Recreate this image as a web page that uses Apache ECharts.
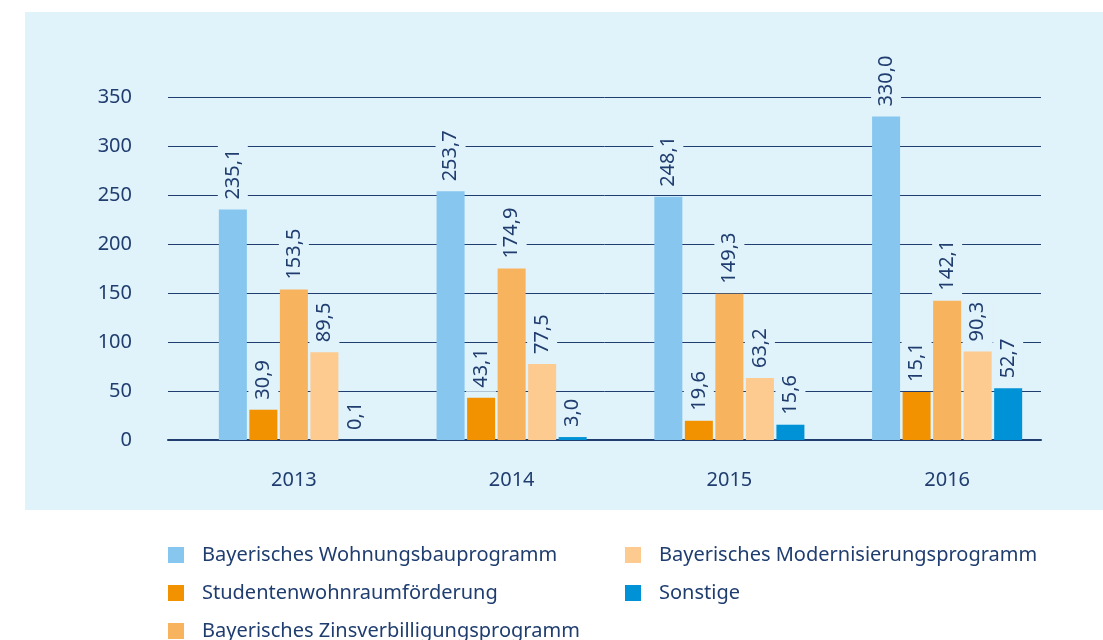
<!DOCTYPE html>
<html>
<head>
    <meta charset="utf-8">
    <script src="https://cdn.jsdelivr.net/npm/echarts@6/dist/echarts.min.js"></script>
</head>
<body style="margin:0;background:#fff">
    <div id="main" style="width:1103px;height:640px;"></div>
    <script type="text/javascript">
        var years = ['2013', '2014', '2015', '2016'];
        var yTicks = [0, 50, 100, 150, 200, 250, 300, 350];

        var wohnungsbau = [235.1, 253.7, 248.1, 330.0];
        var studenten = [30.9, 43.1, 19.6, 15.1];
        // in der Vorlage ist der 2016er Balken deutlich höher als sein Wert 15,1
        var studentenBalken = [30.9, 43.1, 19.6, 49.0];
        var zinsverbilligung = [153.5, 174.9, 149.3, 142.1];
        var modernisierung = [89.5, 77.5, 63.2, 90.3];
        var sonstige = [0.1, 3.0, 15.6, 52.7];

        var navy = '#1f3d6f';
        var panel = '#e0f2fa';
        var font = 'Noto Sans';

        function fmt(v) {
            return v.toFixed(1).replace('.', ',');
        }

        function barSeries(name, values, color, labels) {
            labels = labels || values;
            return {
                name: name,
                type: 'bar',
                xAxisIndex: 1,
                yAxisIndex: 1,
                barWidth: 28,
                barGap: '9%',
                itemStyle: { color: color },
                data: values,
                label: {
                    show: true,
                    position: 'top',
                    rotate: 90,
                    align: 'left',
                    verticalAlign: 'middle',
                    distance: 6,
                    color: navy,
                    fontFamily: font,
                    fontSize: 20,
                    backgroundColor: panel,
                    padding: [5, 4],
                    formatter: function (p) { return fmt(labels[p.dataIndex]); }
                }
            };
        }

        function legendCol(left, names) {
            return {
                orient: 'vertical',
                left: left,
                top: 545,
                height: 140,
                padding: 0,
                icon: 'rect',
                itemWidth: 16,
                itemHeight: 16,
                itemGap: 18,
                textStyle: { color: navy, fontFamily: font, fontSize: 20, lineHeight: 20, padding: [0, 0, 0, 13] },
                data: names
            };
        }

        var myChart = echarts.init(document.getElementById('main'));

        var option = {
            animation: false,
            backgroundColor: '#fff',
            graphic: [{
                type: 'rect',
                z: -10,
                shape: { x: 25, y: 12, width: 1078, height: 498 },
                style: { fill: panel }
            }],
            grid: [
                { left: 168, right: 62, top: 97, bottom: 200 },
                { left: 185, right: 47, top: 97, bottom: 200 }
            ],
            xAxis: [{
                type: 'category',
                gridIndex: 0,
                data: years,
                axisLine: { show: true, lineStyle: { color: navy, width: 2 } },
                axisTick: { show: false },
                axisLabel: { show: false }
            }, {
                type: 'category',
                gridIndex: 1,
                data: years,
                axisLine: { show: false },
                axisTick: { show: false },
                axisLabel: { margin: 30, color: navy, fontFamily: font, fontSize: 20 }
            }],
            yAxis: [{
                type: 'value',
                gridIndex: 0,
                min: 0,
                max: 350,
                interval: 50,
                axisLine: { show: false },
                axisTick: { show: false },
                axisLabel: {
                    margin: 36, color: navy, fontFamily: font, fontSize: 20,
                    formatter: function (v) { return yTicks.indexOf(v) >= 0 ? String(v) : ''; }
                },
                splitLine: { lineStyle: { color: navy, width: 1 } }
            }, {
                type: 'value',
                gridIndex: 1,
                min: 0,
                max: 350,
                show: false,
                splitLine: { show: false }
            }],
            legend: [
                legendCol(168, ['Bayerisches Wohnungsbauprogramm', 'Studentenwohnraumförderung', 'Bayerisches Zinsverbilligungsprogramm']),
                legendCol(625, ['Bayerisches Modernisierungsprogramm', 'Sonstige'])
            ],
            series: [
                barSeries('Bayerisches Wohnungsbauprogramm', wohnungsbau, '#86c6ef'),
                barSeries('Studentenwohnraumförderung', studentenBalken, '#f39200', studenten),
                barSeries('Bayerisches Zinsverbilligungsprogramm', zinsverbilligung, '#f8b35e'),
                barSeries('Bayerisches Modernisierungsprogramm', modernisierung, '#fdca8f'),
                barSeries('Sonstige', sonstige, '#0092d6')
            ]
        };
        myChart.setOption(option);
    </script>
</body>
</html>
